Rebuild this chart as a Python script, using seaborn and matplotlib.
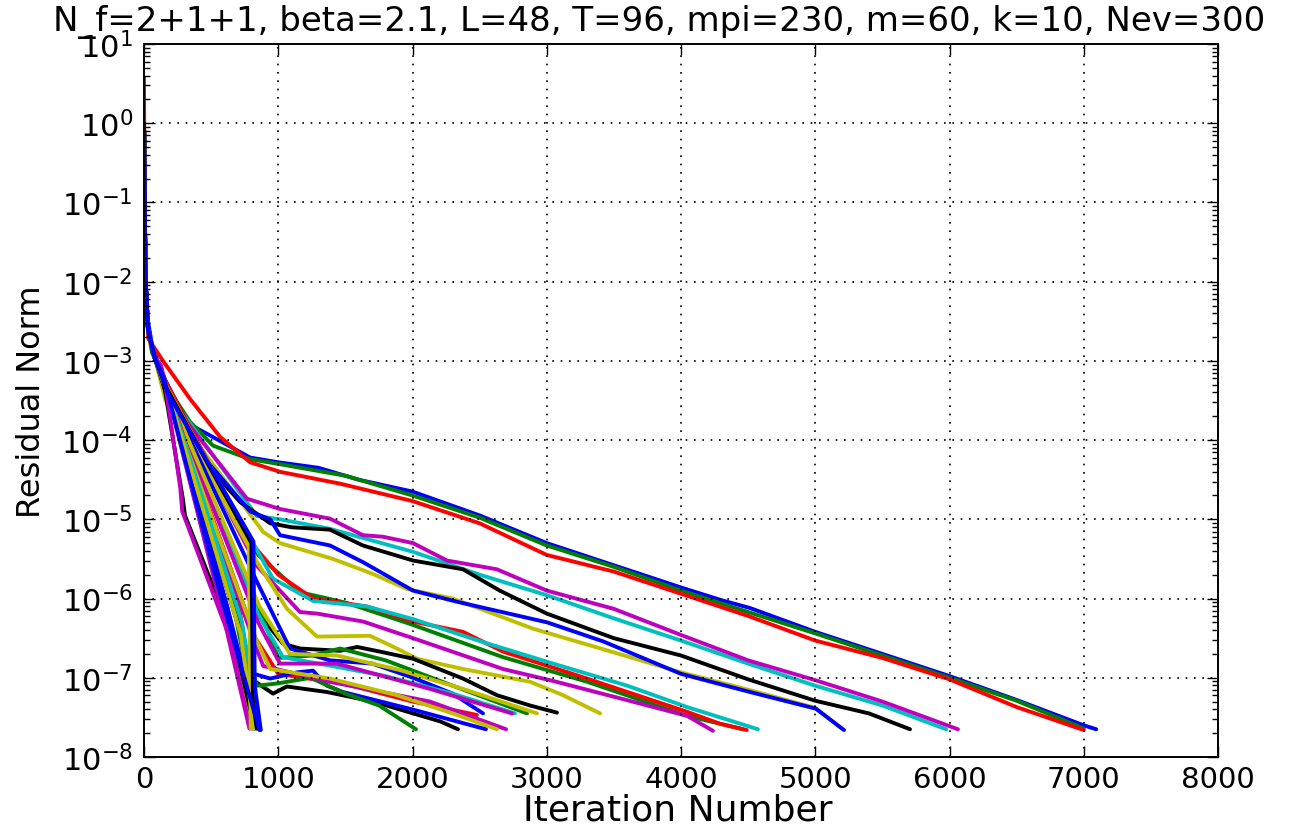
import matplotlib
matplotlib.use("Agg")
import matplotlib.pyplot as plt
import pandas as pd
import seaborn as sns
from matplotlib.ticker import LogLocator, FixedLocator

# ---------------------------------------------------------------- text
title_text = "N_f=2+1+1, beta=2.1, L=48, T=96, mpi=230, m=60, k=10, Nev=300"
x_label = "Iteration Number"
y_label = "Residual Norm"
x_ticks = [0, 1000, 2000, 3000, 4000, 5000, 6000, 7000, 8000]
y_ticks = [1e-8, 1e-7, 1e-6, 1e-5, 1e-4, 1e-3, 1e-2, 1e-1, 1e0, 1e1]

# ------------------------------------------- residual histories (iteration, |r|)
# shared first few iterations of every solve
initial_drop = [(0, 1.0), (5, 1.0e-1), (12, 1.0e-2), (30, 2.5e-3), (80, 1.1e-3)]

# slowest solves
run_long_b = [(0, 1.12), (5, 1.0e-1), (12, 1.0e-2), (30, 3.16e-3), (60, 1.58e-3),
              (140, 6.31e-4), (216, 2.69e-4), (340, 1.58e-4), (566, 9.77e-5),
              (790, 6.03e-5), (1000, 5.25e-5), (1300, 4.47e-5), (1600, 3.16e-5),
              (2000, 2.24e-5), (2500, 1.12e-5), (3000, 5.01e-6), (3500, 2.63e-6),
              (4000, 1.38e-6), (4300, 9.55e-7), (4514, 7.59e-7), (5000, 3.80e-7),
              (5500, 2.0e-7), (6000, 1.05e-7), (6500, 5.25e-8), (7000, 2.51e-8),
              (7093, 2.24e-8)]
run_long_g = [(0, 1.0), (5, 1.0e-1), (12, 1.0e-2), (30, 2.51e-3), (60, 1.26e-3),
              (200, 3.98e-4), (343, 1.70e-4), (514, 8.51e-5), (790, 5.75e-5),
              (1000, 5.01e-5), (1500, 3.55e-5), (2000, 2.0e-5), (2500, 1.05e-5),
              (3000, 4.68e-6), (3500, 2.51e-6), (4000, 1.26e-6), (4500, 6.76e-7),
              (5000, 3.63e-7), (5500, 1.91e-7), (6000, 1.0e-7), (6500, 5.13e-8),
              (7000, 2.29e-8)]
run_long_r = [(0, 3.8), (4, 1.0e-1), (10, 1.0e-2), (32, 1.91e-3), (141, 1.0e-3),
              (343, 3.31e-4), (566, 1.10e-4), (790, 5.25e-5), (1013, 3.98e-5),
              (1460, 2.82e-5), (2000, 1.70e-5), (2500, 8.91e-6), (3000, 3.55e-6),
              (3500, 2.19e-6), (4000, 1.15e-6), (4500, 6.03e-7), (5000, 2.95e-7),
              (5500, 1.78e-7), (6000, 9.55e-8), (6500, 4.27e-8), (7000, 2.19e-8)]

# intermediate solves
run_mid_c = initial_drop + [(194, 3.63e-4), (840, 1.10e-5), (1013, 1.0e-5), (1385, 7.59e-6),
                            (2004, 3.89e-6), (2500, 2.0e-6), (3002, 1.10e-6), (3500, 5.62e-7),
                            (4000, 2.95e-7), (4500, 1.51e-7), (5000, 7.94e-8), (5500, 4.47e-8),
                            (5975, 2.24e-8)]
run_mid_m = initial_drop + [(170, 3.55e-4), (767, 1.82e-5), (1013, 1.35e-5), (1385, 1.02e-5),
                            (1631, 6.31e-6), (1780, 6.03e-6), (2004, 5.01e-6), (2257, 3.02e-6),
                            (2629, 2.34e-6), (3000, 1.26e-6), (3500, 7.41e-7), (4000, 3.47e-7),
                            (4500, 1.66e-7), (5000, 9.33e-8), (5500, 5.01e-8), (6063, 2.24e-8)]
run_mid_y = initial_drop + [(160, 3.16e-4), (888, 6.92e-6), (1013, 5.01e-6), (1408, 3.16e-6),
                            (1706, 2.04e-6), (1959, 1.32e-6), (2300, 1.0e-6), (2898, 4.17e-7),
                            (3500, 2.09e-7), (4000, 1.17e-7), (4500, 7.08e-8), (5000, 4.17e-8),
                            (5190, 2.34e-8)]
run_mid_k = initial_drop + [(190, 3.16e-4), (343, 8.51e-5), (715, 1.66e-5), (940, 8.91e-6),
                            (1100, 7.94e-6), (1385, 7.41e-6), (1630, 4.68e-6), (2004, 3.02e-6),
                            (2376, 2.34e-6), (2650, 1.26e-6), (3000, 6.46e-7), (3500, 3.16e-7),
                            (4000, 1.91e-7), (4500, 9.55e-8), (5000, 5.13e-8), (5400, 3.55e-8),
                            (5706, 2.24e-8)]
run_mid_b = initial_drop + [(142, 6.46e-4), (470, 5.37e-5), (790, 1.26e-5), (940, 1.0e-5),
                            (1013, 6.31e-6), (1385, 4.68e-6), (1631, 2.88e-6), (2004, 1.26e-6),
                            (2331, 9.12e-7), (3002, 5.01e-7), (3420, 2.88e-7), (4000, 1.12e-7),
                            (4514, 6.61e-8), (5005, 4.07e-8), (5214, 2.19e-8)]

run_n_g = initial_drop + [(190, 3.98e-4), (850, 3.55e-6), (1162, 1.20e-6), (1500, 8.91e-7),
                          (1981, 4.79e-7), (2674, 1.82e-7), (3300, 8.91e-8), (4045, 3.31e-8),
                          (4460, 2.24e-8)]
run_n_r = initial_drop + [(180, 4.79e-4), (790, 5.25e-6), (1000, 2.0e-6), (1260, 1.0e-6),
                          (1660, 7.94e-7), (2004, 5.13e-7), (2376, 3.80e-7), (2674, 2.14e-7),
                          (3009, 1.41e-7), (3300, 9.77e-8), (3672, 6.03e-8), (4045, 3.72e-8),
                          (4290, 2.63e-8), (4490, 2.19e-8)]
run_n_c = initial_drop + [(200, 3.55e-4), (961, 1.78e-6), (1260, 9.33e-7), (1660, 7.94e-7),
                          (2004, 5.50e-7), (2525, 2.82e-7), (3047, 1.51e-7), (3600, 7.94e-8),
                          (4045, 4.27e-8), (4573, 2.24e-8)]
run_n_m = initial_drop + [(200, 3.16e-4), (842, 2.57e-6), (1162, 6.76e-7), (1289, 6.46e-7),
                          (1631, 5.13e-7), (2004, 3.16e-7), (2674, 1.29e-7), (3047, 9.12e-8),
                          (3546, 5.50e-8), (4045, 3.31e-8), (4238, 2.14e-8)]

# faster solves that level off near 1e-7
run_low_y1 = initial_drop + [(170, 3.55e-4), (842, 2.88e-6), (1065, 7.41e-7), (1289, 3.31e-7),
                             (1683, 3.39e-7), (1884, 2.34e-7), (2033, 1.74e-7), (2376, 1.29e-7),
                             (2629, 1.07e-7), (2875, 8.91e-8), (3121, 6.03e-8), (3397, 3.55e-8)]
run_low_k1 = initial_drop + [(180, 3.16e-4), (864, 6.17e-7), (1035, 2.69e-7), (1162, 2.34e-7),
                             (1460, 2.19e-7), (1587, 2.45e-7), (1758, 2.14e-7), (2004, 1.74e-7),
                             (2376, 9.77e-8), (2629, 6.03e-8), (2875, 4.47e-8), (3076, 3.63e-8)]
run_low_b2 = initial_drop + [(180, 3.98e-4), (842, 1.62e-6), (1087, 2.34e-7), (1385, 1.66e-7),
                             (1700, 1.51e-7), (2004, 1.0e-7), (2300, 6.31e-8), (2525, 3.55e-8)]
run_low_g3 = initial_drop + [(190, 3.55e-4), (830, 1.0e-6), (1000, 1.78e-7), (1259, 1.91e-7),
                             (1460, 2.34e-7), (1800, 1.66e-7), (2300, 7.94e-8), (2853, 3.55e-8)]
run_low_r2 = initial_drop + [(180, 3.98e-4), (830, 3.16e-7), (1000, 1.12e-7), (1500, 8.32e-8),
                             (2000, 5.01e-8), (2480, 3.39e-8)]
run_low_c2 = initial_drop + [(190, 3.55e-4), (850, 6.31e-7), (1035, 1.82e-7), (1400, 1.41e-7),
                             (1800, 1.05e-7), (2300, 6.31e-8), (2763, 3.55e-8)]
run_low_m3 = initial_drop + [(190, 3.55e-4), (850, 5.01e-7), (1013, 1.51e-7), (1437, 1.51e-7),
                             (2130, 7.24e-8), (2741, 3.55e-8)]
run_low_y3 = initial_drop + [(180, 3.98e-4), (860, 7.94e-7), (1087, 2.0e-7), (1437, 1.91e-7),
                             (1900, 1.26e-7), (2376, 7.24e-8), (2927, 3.55e-8)]
run_low_k2 = initial_drop + [(170, 3.98e-4), (830, 8.91e-8), (961, 6.31e-8), (1065, 7.76e-8),
                             (1363, 6.61e-8), (1706, 5.01e-8), (2205, 2.82e-8), (2339, 2.24e-8)]
run_low_b3 = initial_drop + [(170, 3.98e-4), (820, 1.12e-7), (940, 9.77e-8), (1139, 1.17e-7),
                             (1259, 1.23e-7), (1363, 7.94e-8), (1482, 6.61e-8), (2000, 3.98e-8),
                             (2547, 2.24e-8)]
run_low_g2 = initial_drop + [(170, 3.98e-4), (840, 7.94e-8), (1000, 8.51e-8), (1240, 1.0e-7),
                             (1500, 6.31e-8), (1750, 4.47e-8), (2026, 2.24e-8)]
run_low_m2 = initial_drop + [(180, 3.55e-4), (830, 2.51e-7), (888, 1.41e-7), (1385, 8.91e-8),
                             (2130, 5.01e-8), (2697, 2.24e-8)]
run_low_y2 = initial_drop + [(180, 3.55e-4), (830, 3.16e-7), (940, 1.29e-7), (1385, 9.77e-8),
                             (1884, 6.03e-8), (2300, 3.55e-8), (2629, 2.24e-8)]

# fastest solves, converged before ~900 iterations
run_fast_r = initial_drop + [(180, 4.47e-4), (715, 6.76e-7), (850, 2.29e-8)]
run_fast_c1 = initial_drop + [(130, 7.94e-4), (600, 5.62e-7), (800, 2.29e-8)]
run_fast_k1 = initial_drop + [(130, 7.94e-4), (290, 1.78e-5), (305, 1.12e-5), (620, 5.01e-7),
                              (810, 2.29e-8)]
run_fast_b1 = initial_drop + [(140, 6.31e-4), (620, 7.94e-7), (830, 2.29e-8)]
run_fast_g = initial_drop + [(160, 5.01e-4), (680, 6.31e-7), (845, 2.29e-8)]
run_fast_c2 = initial_drop + [(185, 3.98e-4), (730, 5.01e-7), (860, 2.29e-8)]
run_fast_m1 = initial_drop + [(125, 8.91e-4), (588, 6.31e-7), (785, 2.29e-8)]
run_fast_y1 = initial_drop + [(150, 5.62e-4), (640, 5.01e-7), (800, 2.29e-8)]
run_fast_k2 = initial_drop + [(160, 5.01e-4), (680, 2.51e-7), (825, 2.29e-8)]
run_fast_b2 = initial_drop + [(150, 5.62e-4), (650, 5.01e-7), (850, 2.29e-8)]
run_fast_m2 = initial_drop + [(150, 6.31e-4), (270, 2.51e-5), (285, 1.26e-5), (640, 3.16e-7),
                              (790, 2.29e-8)]
run_fast_y2 = initial_drop + [(170, 4.47e-4), (720, 3.55e-7), (820, 2.29e-8)]
run_jump_y = initial_drop + [(160, 5.01e-4), (780, 5.62e-6), (795, 2.29e-8)]
run_jump_k = initial_drop + [(170, 4.47e-4), (800, 5.01e-6), (812, 5.01e-8), (840, 2.29e-8)]
run_jump_b = initial_drop + [(175, 3.98e-4), (815, 5.25e-6), (825, 7.94e-8), (870, 2.19e-8)]
run_fast_b3 = initial_drop + [(145, 6.31e-4), (560, 1.26e-6), (860, 2.19e-8)]

# drawing order and colour of each solve
runs = [
    ("long_b", run_long_b, "b"), ("long_g", run_long_g, "g"), ("long_r", run_long_r, "r"),
    ("mid_c", run_mid_c, "c"), ("mid_m", run_mid_m, "m"), ("mid_y", run_mid_y, "y"),
    ("mid_k", run_mid_k, "k"), ("mid_b", run_mid_b, "b"),
    ("n_g", run_n_g, "g"), ("n_r", run_n_r, "r"), ("n_c", run_n_c, "c"), ("n_m", run_n_m, "m"),
    ("low_y1", run_low_y1, "y"), ("low_k1", run_low_k1, "k"), ("low_b2", run_low_b2, "b"),
    ("low_g3", run_low_g3, "g"), ("low_r2", run_low_r2, "r"), ("low_c2", run_low_c2, "c"),
    ("low_m3", run_low_m3, "m"), ("low_y3", run_low_y3, "y"), ("low_k2", run_low_k2, "k"),
    ("low_b3", run_low_b3, "b"), ("low_g2", run_low_g2, "g"), ("fast_r", run_fast_r, "r"),
    ("fast_c1", run_fast_c1, "c"), ("low_m2", run_low_m2, "m"), ("low_y2", run_low_y2, "y"),
    ("fast_k1", run_fast_k1, "k"), ("fast_b1", run_fast_b1, "b"), ("fast_g", run_fast_g, "g"),
    ("fast_c2", run_fast_c2, "c"), ("fast_m1", run_fast_m1, "m"), ("fast_y1", run_fast_y1, "y"),
    ("fast_k2", run_fast_k2, "k"), ("fast_b2", run_fast_b2, "b"), ("fast_m2", run_fast_m2, "m"),
    ("fast_y2", run_fast_y2, "y"), ("jump_y", run_jump_y, "y"), ("jump_k", run_jump_k, "k"),
    ("jump_b", run_jump_b, "b"), ("fast_b3", run_fast_b3, "b"),
]

classic = {"b": (0.0, 0.0, 1.0), "g": (0.0, 0.5, 0.0), "r": (1.0, 0.0, 0.0),
           "c": (0.0, 0.75, 0.75), "m": (0.75, 0.0, 0.75), "y": (0.75, 0.75, 0.0),
           "k": (0.0, 0.0, 0.0)}

rows = []
for name, pts, _ in runs:
    for step, (it, res) in enumerate(pts):
        rows.append({"run": name, "step": step, "iteration": it, "residual": res})
df = pd.DataFrame(rows)
palette = {name: classic[c] for name, _, c in runs}

# ---------------------------------------------------------------- style
sns.set_theme(style="ticks", rc={
    "axes.edgecolor": "black",
    "axes.linewidth": 1.4,
    "axes.labelcolor": "black",
    "text.color": "black",
    "xtick.direction": "in",
    "ytick.direction": "in",
    "xtick.top": True,
    "ytick.right": True,
    "xtick.major.size": 8,
    "ytick.major.size": 8,
    "ytick.minor.size": 4,
    "xtick.major.width": 1.0,
    "ytick.major.width": 1.0,
    "ytick.minor.width": 1.0,
    "xtick.color": "black",
    "ytick.color": "black",
})
plt.rcParams["font.family"] = ["DejaVu Sans"]

fig = plt.figure(figsize=(13.04, 8.28), dpi=100)
ax = fig.add_axes([144 / 1304, 1 - 758 / 828, (1218 - 144) / 1304, (758 - 45) / 828])

sns.lineplot(data=df, x="iteration", y="residual", hue="run", units="run",
             palette=palette, hue_order=[r[0] for r in runs], estimator=None,
             sort=False, legend=False, linewidth=2.8, ax=ax)

ax.set_yscale("log")
ax.set_xlim(0, 8000)
ax.set_ylim(1e-8, 1e1)
ax.xaxis.set_major_locator(FixedLocator(x_ticks))
ax.yaxis.set_major_locator(FixedLocator(y_ticks))
ax.yaxis.set_minor_locator(LogLocator(base=10, subs=range(2, 10), numticks=100))
ax.tick_params(axis="x", which="major", labelsize=21, pad=6)
ax.tick_params(axis="y", which="major", labelsize=22, pad=8)
ax.grid(True, which="major", color="black", linestyle=(0, (1, 4)), linewidth=1.2)
ax.set_axisbelow(False)

ax.set_xlabel(x_label, fontsize=26, va="top")
ax.set_ylabel(y_label, fontsize=23)
ax.xaxis.set_label_coords(0.497, -0.05)
ax.yaxis.set_label_coords(-0.09, 0.5)

fig.text(659 / 1304, 1 - 31 / 828, title_text, ha="center", va="baseline", fontsize=24.5)

fig.savefig("out.png", dpi=100)
